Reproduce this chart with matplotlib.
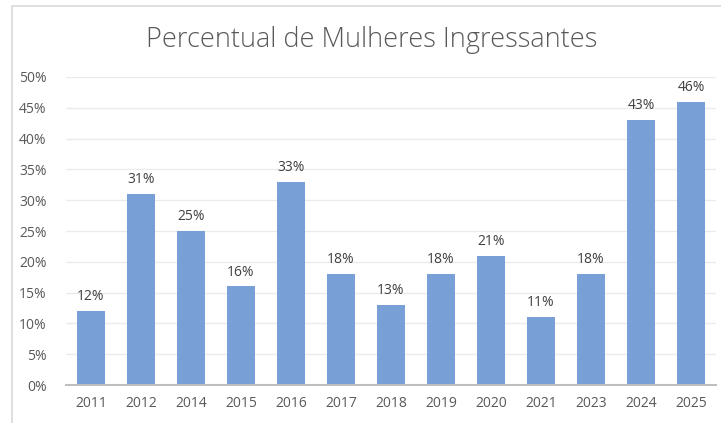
import matplotlib.pyplot as plt
from matplotlib.patches import Rectangle
import numpy as np

anos = ["2011", "2012", "2014", "2015", "2016", "2017", "2018", "2019", "2020", "2021", "2023", "2024", "2025"]
percentual = [12, 31, 25, 16, 33, 18, 13, 18, 21, 11, 18, 43, 46]
yticks = [0, 5, 10, 15, 20, 25, 30, 35, 40, 45, 50]

plt.rcParams["font.family"] = ["Open Sans", "DejaVu Sans"]
texto = "#595959"

fig = plt.figure(figsize=(7.21, 4.23), dpi=100)
fig.patches.append(Rectangle((12 / 721, -0.1), 1.2, 1.1 - 6 / 423, transform=fig.transFigure,
                             fill=False, edgecolor="#d9d9d9", linewidth=1.2))
ax = fig.add_axes([66 / 721, 38 / 423, 650 / 721, 308 / 423])

x = np.arange(len(anos))
ax.bar(x, percentual, width=0.56, color="#789fd6", zorder=2)
for xi, v in zip(x, percentual):
    ax.text(xi, v + 1.1, f"{v}%", ha="center", va="bottom", fontsize=10, color="#404040")

ax.set_xlim(-0.5, len(anos) - 0.5)
ax.set_ylim(0, 50)
ax.set_yticks(yticks)
ax.set_yticklabels([f"{t}%" for t in yticks], fontsize=10, color=texto)
ax.set_xticks(x)
ax.set_xticklabels(anos, fontsize=10, color=texto)
ax.tick_params(length=0, pad=8)
ax.tick_params(axis="y", pad=14)
ax.grid(axis="y", color="#ebebeb", linewidth=1, zorder=0)
for s in ["top", "right", "left"]:
    ax.spines[s].set_visible(False)
ax.spines["bottom"].set_color("#bfbfbf")
ax.spines["bottom"].set_linewidth(1.5)

fig.text(0.516, 0.905, "Percentual de Mulheres Ingressantes", ha="center", va="center",
         fontsize=19.5, color=texto, fontweight="light")

fig.savefig("out.png", dpi=100)
